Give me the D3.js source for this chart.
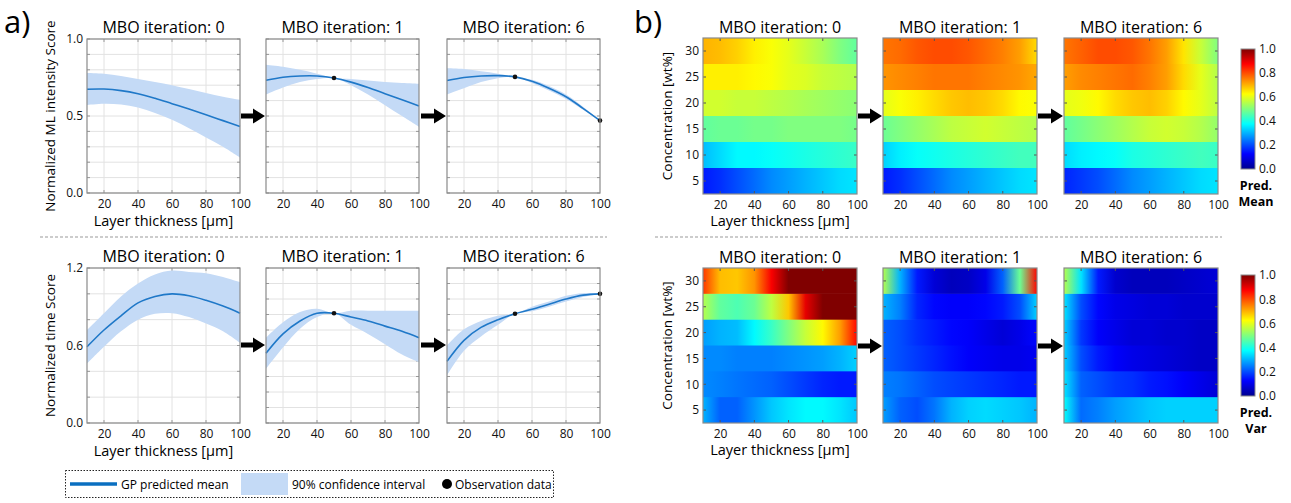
<!DOCTYPE html>
<html>
<head>
<meta charset="utf-8">
<script src="https://cdn.jsdelivr.net/npm/d3@7"></script>
<style>
  html, body { margin: 0; padding: 0; background: #fff; }
  svg { display: block; font-family: 'Open Sans', sans-serif; }
</style>
</head>
<body>
<div id="chart"></div>
<script>
const iterations = [0, 1, 6]
const layerX = [10, 20, 30, 40, 50, 60, 70, 80, 90, 100]
const concentrations = [5, 10, 15, 20, 25, 30]
const colorTicks = [0, 0.2, 0.4, 0.6, 0.8, 1.0]

// a) ML intensity score, one array per MBO iteration
const mlMean = [
  [0.674, 0.675, 0.665, 0.645, 0.615, 0.58, 0.545, 0.508, 0.47, 0.432],
  [0.732, 0.752, 0.76, 0.76, 0.747, 0.72, 0.685, 0.645, 0.605, 0.565],
  [0.73, 0.75, 0.76, 0.762, 0.754, 0.725, 0.68, 0.625, 0.55, 0.47],
]
const mlUpper = [
  [0.78, 0.775, 0.76, 0.74, 0.72, 0.7, 0.675, 0.65, 0.625, 0.605],
  [0.833, 0.82, 0.8, 0.775, 0.747, 0.74, 0.73, 0.72, 0.715, 0.71],
  [0.81, 0.805, 0.79, 0.775, 0.754, 0.735, 0.695, 0.64, 0.56, 0.47],
]
const mlLower = [
  [0.572, 0.58, 0.575, 0.555, 0.52, 0.475, 0.42, 0.36, 0.3, 0.23],
  [0.64, 0.685, 0.72, 0.74, 0.747, 0.7, 0.64, 0.57, 0.5, 0.43],
  [0.64, 0.68, 0.72, 0.745, 0.754, 0.715, 0.665, 0.61, 0.54, 0.47],
]
const mlObsX = [[], [50], [50, 100]]
const mlObsY = [[], [0.747], [0.754, 0.47]]

// a) time score
const timeMean = [
  [0.59, 0.72, 0.83, 0.93, 0.98, 1.0, 0.985, 0.95, 0.905, 0.85],
  [0.54, 0.69, 0.79, 0.85, 0.85, 0.82, 0.79, 0.75, 0.71, 0.66],
  [0.477, 0.64, 0.74, 0.8, 0.846, 0.88, 0.92, 0.96, 0.99, 1.0],
]
const timeUpper = [
  [0.72, 0.85, 0.98, 1.08, 1.15, 1.18, 1.17, 1.16, 1.13, 1.09],
  [0.66, 0.78, 0.86, 0.885, 0.85, 0.87, 0.87, 0.87, 0.87, 0.87],
  [0.6, 0.725, 0.79, 0.83, 0.846, 0.9, 0.94, 0.985, 1.005, 1.0],
]
const timeLower = [
  [0.46, 0.59, 0.71, 0.8, 0.845, 0.85, 0.82, 0.77, 0.71, 0.62],
  [0.42, 0.585, 0.73, 0.82, 0.85, 0.76, 0.69, 0.61, 0.53, 0.47],
  [0.37, 0.56, 0.67, 0.76, 0.846, 0.865, 0.9, 0.94, 0.975, 1.0],
]
const timeObsX = [[], [50], [50, 100]]
const timeObsY = [[], [0.85], [0.846, 1.0]]

// b) predicted mean, rows = concentrations 5..30, columns = layerX
const predMean = [
  [
    [0.15, 0.17, 0.2, 0.23, 0.26, 0.28, 0.3, 0.32, 0.34, 0.35],
    [0.31, 0.34, 0.37, 0.37, 0.38, 0.39, 0.4, 0.41, 0.42, 0.43],
    [0.47, 0.48, 0.48, 0.49, 0.49, 0.5, 0.5, 0.5, 0.5, 0.49],
    [0.58, 0.58, 0.57, 0.57, 0.56, 0.55, 0.54, 0.53, 0.52, 0.51],
    [0.64, 0.64, 0.64, 0.63, 0.62, 0.6, 0.59, 0.57, 0.56, 0.55],
    [0.7, 0.69, 0.67, 0.64, 0.62, 0.6, 0.57, 0.54, 0.5, 0.47],
  ],
  [
    [0.15, 0.17, 0.2, 0.23, 0.26, 0.28, 0.3, 0.32, 0.34, 0.35],
    [0.33, 0.36, 0.38, 0.39, 0.4, 0.41, 0.42, 0.43, 0.44, 0.44],
    [0.48, 0.5, 0.52, 0.54, 0.56, 0.57, 0.58, 0.57, 0.56, 0.55],
    [0.6, 0.62, 0.64, 0.66, 0.68, 0.69, 0.68, 0.66, 0.63, 0.62],
    [0.73, 0.74, 0.75, 0.76, 0.76, 0.76, 0.75, 0.74, 0.73, 0.71],
    [0.76, 0.77, 0.79, 0.8, 0.8, 0.79, 0.77, 0.75, 0.72, 0.66],
  ],
  [
    [0.16, 0.18, 0.2, 0.23, 0.26, 0.28, 0.3, 0.32, 0.34, 0.35],
    [0.34, 0.36, 0.37, 0.38, 0.4, 0.41, 0.42, 0.43, 0.44, 0.43],
    [0.47, 0.49, 0.51, 0.53, 0.55, 0.57, 0.58, 0.57, 0.55, 0.52],
    [0.6, 0.61, 0.63, 0.66, 0.68, 0.69, 0.67, 0.63, 0.6, 0.56],
    [0.72, 0.74, 0.75, 0.76, 0.77, 0.75, 0.72, 0.66, 0.6, 0.55],
    [0.76, 0.78, 0.8, 0.8, 0.79, 0.76, 0.72, 0.65, 0.57, 0.5],
  ],
]

// b) predicted variance
const predVar = [
  [
    [0.3, 0.22, 0.22, 0.27, 0.32, 0.35, 0.37, 0.37, 0.35, 0.32],
    [0.26, 0.25, 0.24, 0.23, 0.22, 0.2, 0.18, 0.16, 0.15, 0.15],
    [0.26, 0.26, 0.25, 0.25, 0.25, 0.26, 0.27, 0.28, 0.3, 0.33],
    [0.28, 0.3, 0.31, 0.37, 0.43, 0.5, 0.57, 0.63, 0.72, 0.87],
    [0.55, 0.47, 0.45, 0.48, 0.56, 0.68, 0.9, 1, 1, 1],
    [0.82, 0.69, 0.68, 0.73, 0.88, 1, 1, 1, 1, 1],
  ],
  [
    [0.28, 0.22, 0.2, 0.24, 0.3, 0.33, 0.34, 0.33, 0.32, 0.3],
    [0.25, 0.24, 0.22, 0.2, 0.19, 0.18, 0.17, 0.16, 0.15, 0.15],
    [0.22, 0.2, 0.18, 0.16, 0.14, 0.12, 0.11, 0.1, 0.1, 0.11],
    [0.22, 0.2, 0.17, 0.15, 0.13, 0.12, 0.1, 0.08, 0.1, 0.13],
    [0.3, 0.25, 0.16, 0.13, 0.12, 0.12, 0.13, 0.15, 0.2, 0.33],
    [0.55, 0.3, 0.15, 0.08, 0.05, 0.06, 0.1, 0.22, 0.48, 0.87],
  ],
  [
    [0.38, 0.23, 0.25, 0.28, 0.3, 0.32, 0.33, 0.33, 0.33, 0.33],
    [0.35, 0.22, 0.2, 0.18, 0.17, 0.15, 0.14, 0.12, 0.1, 0.08],
    [0.33, 0.2, 0.15, 0.12, 0.1, 0.09, 0.08, 0.07, 0.06, 0.06],
    [0.33, 0.18, 0.12, 0.1, 0.08, 0.08, 0.07, 0.07, 0.06, 0.06],
    [0.35, 0.2, 0.13, 0.1, 0.09, 0.08, 0.08, 0.07, 0.07, 0.07],
    [0.55, 0.35, 0.15, 0.07, 0.05, 0.05, 0.05, 0.06, 0.07, 0.08],
  ],
]

const W = 1291
const H = 503
const lineBlue = '#1f78c8'
const bandBlue = '#c4daf6'
const frameGrey = '#8a8a8a'
const gridGrey = '#e2e2e2'

// jet colormap
const jet = d3
  .scaleLinear()
  .domain([0, 0.125, 0.375, 0.625, 0.875, 1])
  .range(['#00008f', '#0000ff', '#00ffff', '#ffff00', '#ff0000', '#800000'])
  .clamp(true)

const svg = d3
  .select('#chart')
  .append('svg')
  .attr('width', W)
  .attr('height', H)
  .attr('viewBox', [0, 0, W, H])
const defs = svg.append('defs')

function arrow(x0, x1, yc) {
  const pts = [
    [x0, yc - 2.5],
    [x1 - 12, yc - 2.5],
    [x1 - 12, yc - 7.5],
    [x1, yc],
    [x1 - 12, yc + 7.5],
    [x1 - 12, yc + 2.5],
    [x0, yc + 2.5],
  ]
  svg.append('path').attr('d', d3.line()(pts)).attr('fill', '#000')
}

function title(cx, y, it) {
  svg
    .append('text')
    .attr('x', cx)
    .attr('y', y)
    .attr('text-anchor', 'middle')
    .style('font-size', '16px')
    .text(`MBO iteration: ${it}`)
}

function styleAxis(g, size) {
  g.select('.domain').remove()
  g.selectAll('text').style('font-size', size).style('font-family', "'Open Sans', sans-serif").attr('fill', '#111')
}

// ---------- a) line panels ----------
const lineLefts = [87, 266, 447]
const lineW = 153

function linePanel(i, top, h, cfg) {
  const left = lineLefts[i]
  const x = d3.scaleLinear().domain([10, 100]).range([left, left + lineW])
  const y = d3.scaleLinear().domain([0, cfg.yMax]).range([top + h, top])
  const g = svg.append('g')

  const step = i === 0 ? cfg.step0 : cfg.step
  const yGrid = d3.range(0, cfg.yMax + 1e-6, step)
  g.selectAll('.hg')
    .data(yGrid)
    .join('line')
    .attr('x1', left)
    .attr('x2', left + lineW)
    .attr('y1', (d) => y(d))
    .attr('y2', (d) => y(d))
    .attr('stroke', gridGrey)
  g.selectAll('.vg')
    .data([20, 40, 60, 80])
    .join('line')
    .attr('x1', (d) => x(d))
    .attr('x2', (d) => x(d))
    .attr('y1', top)
    .attr('y2', top + h)
    .attr('stroke', gridGrey)

  // small inner ticks
  g.selectAll('.yt')
    .data(yGrid)
    .join('path')
    .attr('d', (d) => `M${left},${y(d)}h3M${left + lineW},${y(d)}h-3`)
    .attr('stroke', '#999')
  g.selectAll('.xt')
    .data([20, 40, 60, 80])
    .join('path')
    .attr('d', (d) => `M${x(d)},${top + h}v-3M${x(d)},${top}v3`)
    .attr('stroke', '#999')

  const idx = d3.range(layerX.length)
  const curve = d3.curveCatmullRom.alpha(0.5)
  const area = d3
    .area()
    .curve(curve)
    .x((k) => x(layerX[k]))
    .y0((k) => y(cfg.lower[i][k]))
    .y1((k) => y(cfg.upper[i][k]))
  g.append('path').attr('d', area(idx)).attr('fill', bandBlue)

  const line = d3
    .line()
    .curve(curve)
    .x((k) => x(layerX[k]))
    .y((k) => y(cfg.mean[i][k]))
  g.append('path')
    .attr('d', line(idx))
    .attr('fill', 'none')
    .attr('stroke', lineBlue)
    .attr('stroke-width', 1.6)

  g.selectAll('.obs')
    .data(cfg.obsX[i])
    .join('circle')
    .attr('cx', (d) => x(d))
    .attr('cy', (d, j) => y(cfg.obsY[i][j]))
    .attr('r', 2.3)
    .attr('fill', '#111')

  g.append('rect')
    .attr('x', left)
    .attr('y', top)
    .attr('width', lineW)
    .attr('height', h)
    .attr('fill', 'none')
    .attr('stroke', frameGrey)
    .attr('stroke-width', 1.2)

  g.append('g')
    .attr('transform', `translate(0,${top + h})`)
    .call(d3.axisBottom(x).tickValues([20, 40, 60, 80, 100]).tickSize(0).tickPadding(6))
    .call((a) => styleAxis(a, '12px'))

  if (i === 0) {
    g.append('g')
      .attr('transform', `translate(${left},0)`)
      .call(d3.axisLeft(y).tickValues(cfg.yTicks).tickFormat(d3.format('.1f')).tickSize(0).tickPadding(4))
      .call((a) => styleAxis(a, '12px'))
    svg
      .append('text')
      .attr('transform', `translate(${left - 32},${top + h / 2}) rotate(-90)`)
      .attr('text-anchor', 'middle')
      .style('font-size', '13.5px')
      .text(cfg.yLabel)
    svg
      .append('text')
      .attr('x', left + lineW / 2)
      .attr('y', top + h + 33)
      .attr('text-anchor', 'middle')
      .style('font-size', '14.5px')
      .text('Layer thickness [µm]')
  }
  title(left + lineW / 2, top - 6, iterations[i])
}

const mlCfg = {
  mean: mlMean, upper: mlUpper, lower: mlLower, obsX: mlObsX, obsY: mlObsY,
  yMax: 1, step0: 0.1, step: 0.1, yTicks: [0, 0.5, 1], yLabel: 'Normalized ML intensity Score',
}
const timeCfg = {
  mean: timeMean, upper: timeUpper, lower: timeLower, obsX: timeObsX, obsY: timeObsY,
  yMax: 1.2, step0: 0.2, step: 0.12, yTicks: [0, 0.6, 1.2], yLabel: 'Normalized time Score',
}
iterations.forEach((it, i) => {
  linePanel(i, 39, 154, mlCfg)
  linePanel(i, 268, 155, timeCfg)
})
arrow(241, 265, 116)
arrow(421, 446, 116)
arrow(241, 265, 345)
arrow(421, 446, 345)

// ---------- b) heatmaps ----------
const heatLefts = [703, 883, 1064]
const heatW = 154

function heatPanel(i, top, h, grid, key) {
  const left = heatLefts[i]
  const x = d3.scaleLinear().domain([10, 100]).range([left, left + heatW])
  const y = d3.scaleLinear().domain([2.5, 32.5]).range([top + h, top])
  const g = svg.append('g')

  concentrations.forEach((c, r) => {
    const id = `grad-${key}-${i}-${r}`
    const grad = defs
      .append('linearGradient')
      .attr('id', id)
      .attr('gradientUnits', 'userSpaceOnUse')
      .attr('x1', x(layerX[0]))
      .attr('x2', x(layerX[layerX.length - 1]))
      .attr('y1', 0)
      .attr('y2', 0)
    grid[i][r].forEach((v, k) => {
      grad
        .append('stop')
        .attr('offset', (layerX[k] - layerX[0]) / (layerX[layerX.length - 1] - layerX[0]))
        .attr('stop-color', jet(v))
    })
    // small overlap hides seams between bands
    g.append('rect')
      .attr('x', left)
      .attr('y', y(c + 2.5) - (r < concentrations.length - 1 ? 0.6 : 0))
      .attr('width', heatW)
      .attr('height', y(c - 2.5) - y(c + 2.5) + (r < concentrations.length - 1 ? 0.6 : 0))
      .attr('fill', `url(#${id})`)
  })

  g.selectAll('.xt')
    .data([20, 40, 60, 80])
    .join('path')
    .attr('d', (d) => `M${x(d)},${top + h}v-3M${x(d)},${top}v3`)
    .attr('stroke', '#555')
  g.selectAll('.yt')
    .data(concentrations)
    .join('path')
    .attr('d', (d) => `M${left},${y(d)}h3M${left + heatW},${y(d)}h-3`)
    .attr('stroke', '#555')

  g.append('rect')
    .attr('x', left)
    .attr('y', top)
    .attr('width', heatW)
    .attr('height', h)
    .attr('fill', 'none')
    .attr('stroke', frameGrey)
    .attr('stroke-width', 1.2)

  g.append('g')
    .attr('transform', `translate(0,${top + h})`)
    .call(d3.axisBottom(x).tickValues([20, 40, 60, 80, 100]).tickSize(0).tickPadding(6))
    .call((a) => styleAxis(a, '12px'))

  if (i === 0) {
    g.append('g')
      .attr('transform', `translate(${left},0)`)
      .call(d3.axisLeft(y).tickValues(concentrations).tickSize(0).tickPadding(4))
      .call((a) => styleAxis(a, '12px'))
    svg
      .append('text')
      .attr('transform', `translate(${left - 31},${top + h / 2}) rotate(-90)`)
      .attr('text-anchor', 'middle')
      .style('font-size', '13.5px')
      .text('Concentration [wt%]')
    svg
      .append('text')
      .attr('x', left + heatW / 2)
      .attr('y', top + h + 32)
      .attr('text-anchor', 'middle')
      .style('font-size', '14.5px')
      .text('Layer thickness [µm]')
  }
  title(left + heatW / 2, top - 5, iterations[i])
}

iterations.forEach((it, i) => {
  heatPanel(i, 38, 156, predMean, 'mean')
  heatPanel(i, 268, 155, predVar, 'var')
})
arrow(858, 882, 116)
arrow(1038, 1063, 116)
arrow(858, 882, 346)
arrow(1038, 1063, 346)

// colorbars
const cbGrad = defs
  .append('linearGradient')
  .attr('id', 'cb')
  .attr('x1', 0)
  .attr('x2', 0)
  .attr('y1', 1)
  .attr('y2', 0)
jet.domain().forEach((d) => cbGrad.append('stop').attr('offset', d).attr('stop-color', jet(d)))

function colorbar(top, bottom, label) {
  const left = 1241
  const cw = 14
  const y = d3.scaleLinear().domain([0, 1]).range([bottom, top])
  svg.append('rect')
    .attr('x', left)
    .attr('y', top)
    .attr('width', cw)
    .attr('height', bottom - top)
    .attr('fill', 'url(#cb)')
    .attr('stroke', frameGrey)
  svg.append('g')
    .attr('transform', `translate(${left + cw},0)`)
    .call(d3.axisRight(y).tickValues(colorTicks).tickFormat(d3.format('.1f')).tickSize(0).tickPadding(4))
    .call((a) => styleAxis(a, '12px'))
  label.forEach((t, k) => {
    svg.append('text')
      .attr('x', 1256)
      .attr('y', bottom + 21 + k * 16)
      .attr('text-anchor', 'middle')
      .style('font-size', '12.5px')
      .style('font-weight', 'bold')
      .text(t)
  })
}
colorbar(49, 169, ['Pred.', 'Mean'])
colorbar(275, 396, ['Pred.', 'Var'])

// panel letters
svg.append('text').attr('x', 4).attr('y', 33).style('font-size', '31px').text('a)')
svg.append('text').attr('x', 634).attr('y', 33).style('font-size', '31px').text('b)')

// separators
svg.append('line').attr('x1', 40).attr('x2', 607).attr('y1', 237).attr('y2', 237)
  .attr('stroke', '#999').attr('stroke-dasharray', '3,2')
svg.append('line').attr('x1', 655).attr('x2', 1222).attr('y1', 237).attr('y2', 237)
  .attr('stroke', '#999').attr('stroke-dasharray', '3,2')

// legend
const lg = svg.append('g')
lg.append('rect')
  .attr('x', 65.5)
  .attr('y', 470.5)
  .attr('width', 488)
  .attr('height', 27)
  .attr('fill', 'none')
  .attr('stroke', '#222')
  .attr('stroke-dasharray', '1.5,1.5')
lg.append('line').attr('x1', 70).attr('x2', 117).attr('y1', 484).attr('y2', 484)
  .attr('stroke', '#0a6fc0').attr('stroke-width', 3.5)
lg.append('text').attr('x', 121).attr('y', 488.5).style('font-size', '12px').text('GP predicted mean')
lg.append('rect').attr('x', 241).attr('y', 473).attr('width', 47).attr('height', 22).attr('fill', bandBlue)
lg.append('text').attr('x', 292).attr('y', 488.5).style('font-size', '12px').text('90% confidence interval')
lg.append('circle').attr('cx', 447).attr('cy', 484).attr('r', 5).attr('fill', '#000')
lg.append('text').attr('x', 455).attr('y', 488.5).style('font-size', '12px').text('Observation data')
</script>
</body>
</html>
